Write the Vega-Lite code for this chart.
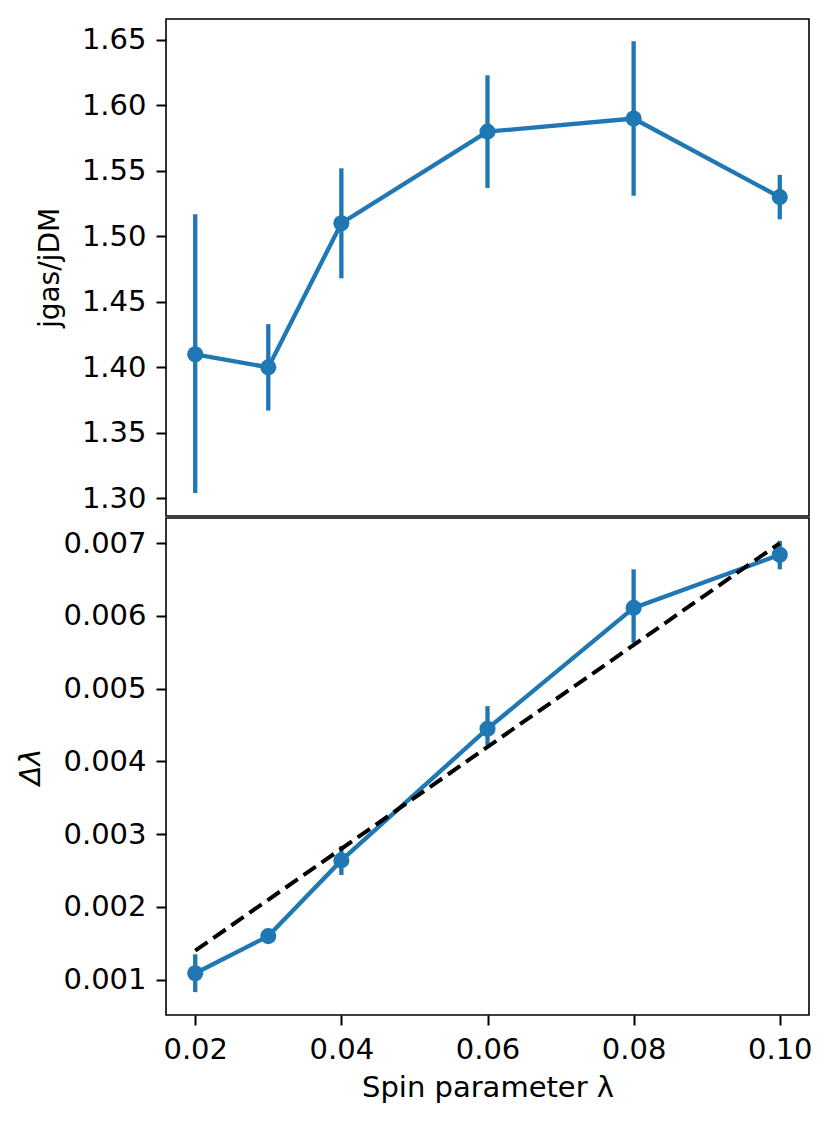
{
  "$schema": "https://vega.github.io/schema/vega-lite/v6.json",
  "background": "white",
  "padding": {"left": 16, "top": 18, "right": 20, "bottom": 10},
  "datasets": {
    "ratio": [
      {"lam": 0.02, "val": 1.41, "lo": 1.304, "hi": 1.517},
      {"lam": 0.03, "val": 1.40, "lo": 1.367, "hi": 1.433},
      {"lam": 0.04, "val": 1.51, "lo": 1.468, "hi": 1.552},
      {"lam": 0.06, "val": 1.58, "lo": 1.537, "hi": 1.623},
      {"lam": 0.08, "val": 1.59, "lo": 1.531, "hi": 1.649},
      {"lam": 0.10, "val": 1.53, "lo": 1.513, "hi": 1.547}
    ],
    "dlam": [
      {"lam": 0.02, "val": 0.00109, "lo": 0.00083, "hi": 0.00135},
      {"lam": 0.03, "val": 0.00160, "lo": 0.00156, "hi": 0.00164},
      {"lam": 0.04, "val": 0.00264, "lo": 0.00244, "hi": 0.00284},
      {"lam": 0.06, "val": 0.00445, "lo": 0.00422, "hi": 0.00476},
      {"lam": 0.08, "val": 0.00611, "lo": 0.00563, "hi": 0.00664},
      {"lam": 0.10, "val": 0.00684, "lo": 0.00664, "hi": 0.00703}
    ],
    "fit": [
      {"lam": 0.02, "val": 0.0014},
      {"lam": 0.10, "val": 0.0070}
    ]
  },
  "vconcat": [
    {
      "width": 643,
      "height": 497,
      "data": {"name": "ratio"},
      "encoding": {
        "x": {
          "field": "lam",
          "type": "quantitative",
          "scale": {"domain": [0.016, 0.104], "nice": false, "zero": false},
          "axis": null
        }
      },
      "layer": [
        {
          "mark": {"type": "rule", "color": "#1f77b4", "strokeWidth": 4.3},
          "encoding": {
            "y": {"field": "lo", "type": "quantitative"},
            "y2": {"field": "hi"}
          }
        },
        {
          "mark": {"type": "line", "color": "#1f77b4", "strokeWidth": 4.3},
          "encoding": {
            "y": {
              "field": "val",
              "type": "quantitative",
              "scale": {"domain": [1.2865, 1.666], "nice": false, "zero": false},
              "axis": {
                "title": "jgas/jDM",
                "titleFontSize": 28,
                "values": [1.30, 1.35, 1.40, 1.45, 1.50, 1.55, 1.60, 1.65],
                "format": ".2f"
              }
            }
          }
        },
        {
          "mark": {"type": "circle", "color": "#1f77b4", "size": 260, "opacity": 1},
          "encoding": {
            "y": {"field": "val", "type": "quantitative"}
          }
        }
      ]
    },
    {
      "width": 643,
      "height": 497,
      "encoding": {
        "x": {
          "field": "lam",
          "type": "quantitative",
          "scale": {"domain": [0.016, 0.104], "nice": false, "zero": false},
          "axis": {
            "title": "Spin parameter λ",
            "titlePadding": 9,
            "values": [0.02, 0.04, 0.06, 0.08, 0.10],
            "format": ".2f"
          }
        }
      },
      "layer": [
        {
          "data": {"name": "dlam"},
          "mark": {"type": "rule", "color": "#1f77b4", "strokeWidth": 4.3},
          "encoding": {
            "y": {"field": "lo", "type": "quantitative"},
            "y2": {"field": "hi"}
          }
        },
        {
          "data": {"name": "dlam"},
          "mark": {"type": "line", "color": "#1f77b4", "strokeWidth": 4.3},
          "encoding": {
            "y": {
              "field": "val",
              "type": "quantitative",
              "scale": {"domain": [0.000516, 0.007345], "nice": false, "zero": false},
              "axis": {
                "title": "Δλ",
                "titleFontStyle": "italic",
                "values": [0.001, 0.002, 0.003, 0.004, 0.005, 0.006, 0.007],
                "format": ".3f"
              }
            }
          }
        },
        {
          "data": {"name": "dlam"},
          "mark": {"type": "circle", "color": "#1f77b4", "size": 260, "opacity": 1},
          "encoding": {
            "y": {"field": "val", "type": "quantitative"}
          }
        },
        {
          "data": {"name": "fit"},
          "mark": {"type": "line", "color": "black", "strokeWidth": 4, "strokeDash": [15, 7]},
          "encoding": {
            "y": {"field": "val", "type": "quantitative"}
          }
        }
      ]
    }
  ],
  "spacing": 0,
  "config": {
    "font": "DejaVu Sans",
    "view": {"stroke": "black", "strokeWidth": 1.6},
    "axis": {
      "grid": false,
      "domain": false,
      "labelFont": "DejaVu Sans",
      "labelFontSize": 29,
      "labelColor": "black",
      "labelPadding": 10,
      "tickColor": "black",
      "tickWidth": 2,
      "tickSize": 10,
      "titleFont": "DejaVu Sans",
      "titleFontSize": 29,
      "titleFontWeight": "normal",
      "titleColor": "black",
      "titlePadding": 17
    }
  }
}
